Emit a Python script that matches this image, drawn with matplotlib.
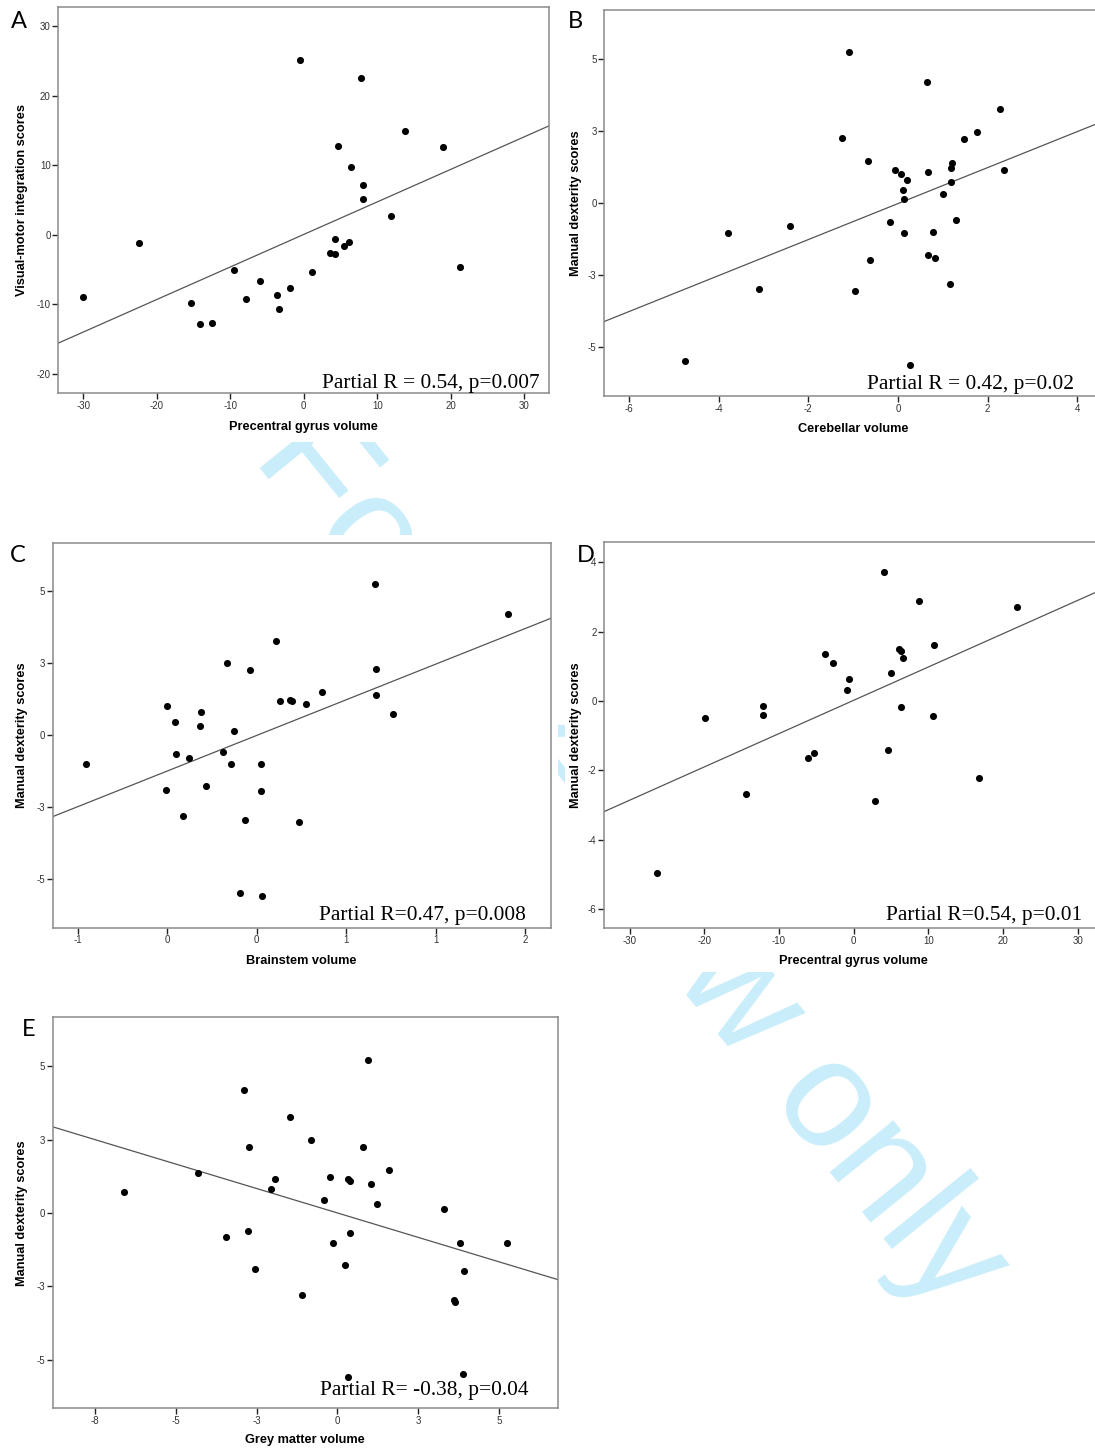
#!/usr/bin/env python3

import matplotlib
matplotlib.use("Agg")
import matplotlib.pyplot as plt
from matplotlib.patches import Rectangle

W, H = 1095, 1451

# Panel A: precentral gyrus volume vs visual-motor integration scores
a_x = [-30.0, -22.4, -15.3, -14.1, -12.5, -9.5, -7.8, -5.9, -3.6, -3.4, -1.9, -0.5, 1.1,
       3.6, 4.3, 4.3, 4.7, 5.5, 6.1, 6.4, 7.8, 8.1, 8.1, 11.9, 13.8, 19.0, 21.3]
a_y = [-9.0, -1.2, -9.8, -12.8, -12.7, -5.0, -9.3, -6.6, -8.7, -10.7, -7.7, 25.2, -5.4,
       -2.6, -2.8, -0.6, 12.7, -1.6, -1.1, 9.7, 22.6, 7.2, 5.1, 2.7, 14.9, 12.6, -4.7]

# Panel B: cerebellar volume vs manual dexterity
b_x = [-4.75, -3.80, -3.11, -2.40, -1.24, -1.10, -0.96, -0.67, -0.63, -0.18, -0.06, 0.07,
       0.12, 0.20, 0.13, 0.14, 0.27, 0.65, 0.67, 0.68, 0.82, 0.78, 1.01, 1.19, 1.20, 1.19,
       1.30, 1.16, 1.48, 1.77, 2.27, 2.37]
b_y = [-5.48, -1.03, -2.97, -0.81, 2.26, 5.21, -3.04, 1.47, -1.96, -0.67, 1.14, 0.99,
       0.45, 0.78, 0.14, -1.03, -5.60, 4.18, 1.07, -1.80, -1.92, -1.01, 0.31, 1.22, 1.37,
       0.73, -0.60, -2.80, 2.22, 2.47, 3.24, 1.14]

# Panel C: brainstem volume vs manual dexterity
c_x = [-0.947, -0.410, -0.403, -0.345, -0.340, -0.292, -0.251, -0.182, -0.172, -0.143,
       -0.026, -0.002, 0.029, 0.051, 0.089, 0.120, 0.154, 0.228, 0.228, 0.236, 0.332,
       0.358, 0.425, 0.435, 0.483, 0.533, 0.641, 0.996, 1.001, 1.001, 1.114, 1.884]
c_y = [-1.01, -1.91, 1.01, 0.47, -0.65, -2.79, -0.79, 0.33, 0.81, -1.77, -0.58, 2.50,
       -1.01, 0.16, -5.46, -2.96, 2.25, -0.99, -1.94, -5.59, 3.27, 1.17, 1.23, 1.17, -3.02,
       1.09, 1.49, 5.23, 2.28, 1.39, 0.74, 4.20]

# Panel D: precentral gyrus volume vs manual dexterity
d_x = [-26.30, -19.86, -14.37, -12.13, -12.13, -6.05, -5.37, -3.82, -2.72, -0.85, -0.62,
       2.86, 4.00, 4.59, 5.05, 6.10, 6.33, 6.56, 6.28, 8.71, 10.58, 10.81, 16.84, 21.87]
d_y = [-4.97, -0.48, -2.68, -0.15, -0.41, -1.64, -1.51, 1.36, 1.10, 0.31, 0.63,
       -2.89, 3.71, -1.40, 0.81, 1.50, 1.44, 1.24, -0.16, 2.88, -0.43, 1.62, -2.22, 2.72]

# Panel E: grey matter volume vs manual dexterity
e_x = [-6.59, -4.30, -3.45, -2.90, -2.76, -2.73, -2.55, -2.06, -1.92, -1.48, -1.11, -0.81,
       -0.43, -0.22, -0.13, 0.24, 0.34, 0.34, 0.40, 0.40, 0.79, 0.93, 1.05, 1.23, 1.60,
       3.28, 3.61, 3.64, 3.78, 3.92, 3.88, 5.23]
e_y = [0.73, 1.37, -0.81, 4.18, -0.60, 2.25, -1.92, 0.80, 1.16, 3.25, -2.80, 2.48,
       0.44, 1.22, -1.02, -1.78, -5.59, 1.15, 1.08, -0.67, 2.23, 5.22, 0.99, 0.32, 1.47,
       0.14, -2.98, -3.03, -1.02, -1.97, -5.48, -1.01]

# fit lines (slope, intercept)
fits = {"A": (0.468, 0.05), "B": (0.623, -0.02), "C": (2.06, -0.42),
        "D": (0.0961, 0.02), "E": (-0.333, 0.0)}

# SPSS style rounded tick labels
sym_ticks = [-5, -2.5, 0, 2.5, 5]
sym_labels = ["-5", "-3", "0", "3", "5"]
c_xticks = [-1.0, -0.4, 0.2, 0.8, 1.4, 2.0]
c_xlabels = ["-1", "0", "0", "1", "1", "2"]
e_xticks = [-7.5, -5, -2.5, 0, 2.5, 5]
e_xlabels = ["-8", "-5", "-3", "0", "3", "5"]
gyrus_ticks = [-30, -20, -10, 0, 10, 20, 30]

panels = [
    dict(name="A", box=(58.3, 6.7, 549.3, 393.3), x=a_x, y=a_y,
         xlim=(-33.4, 33.4), ylim=(-22.8, 32.8),
         xt=gyrus_ticks, xl=[str(v) for v in gyrus_ticks],
         yt=[-20, -10, 0, 10, 20, 30], yl=["-20", "-10", "0", "10", "20", "30"],
         xlabel="Precentral gyrus volume", ylabel="Visual-motor integration scores",
         text="Partial R = 0.54, p=0.007", tpos=(540, 388), lpos=(11, 22), ylx=22, xly=427,
         sheet=(0, 0, 555, 442)),
    dict(name="B", box=(604.3, 10, 1102, 396), x=b_x, y=b_y,
         xlim=(-6.55, 4.55), ylim=(-6.68, 6.68),
         xt=[-6, -4, -2, 0, 2, 4], xl=["-6", "-4", "-2", "0", "2", "4"],
         yt=sym_ticks, yl=sym_labels,
         xlabel="Cerebellar volume", ylabel="Manual dexterity scores",
         text="Partial R = 0.42, p=0.02", tpos=(1074, 389), lpos=(568, 22), ylx=575, xly=429,
         sheet=(560, 0, 1095, 445)),
    dict(name="C", box=(52.7, 542.7, 550.7, 927.7), x=c_x, y=c_y,
         xlim=(-1.168, 2.172), ylim=(-6.68, 6.68),
         xt=c_xticks, xl=c_xlabels, yt=sym_ticks, yl=sym_labels,
         xlabel="Brainstem volume", ylabel="Manual dexterity scores",
         text="Partial R=0.47, p=0.008", tpos=(526, 920), lpos=(10, 556), ylx=22, xly=961,
         sheet=(0, 535, 558, 978)),
    dict(name="D", box=(604.3, 542.3, 1103, 928.3), x=d_x, y=d_y,
         xlim=(-33.4, 33.4), ylim=(-6.56, 4.58),
         xt=gyrus_ticks, xl=[str(v) for v in gyrus_ticks],
         yt=[-6, -4, -2, 0, 2, 4], yl=["-6", "-4", "-2", "0", "2", "4"],
         xlabel="Precentral gyrus volume", ylabel="Manual dexterity scores",
         text="Partial R=0.54, p=0.01", tpos=(1082, 920), lpos=(577, 556), ylx=575, xly=961,
         sheet=(565, 535, 1095, 972)),
    dict(name="E", box=(52.8, 1017.3, 557.7, 1408.3), x=e_x, y=e_y,
         xlim=(-8.80, 6.81), ylim=(-6.65, 6.66),
         xt=e_xticks, xl=e_xlabels, yt=sym_ticks, yl=sym_labels,
         xlabel="Grey matter volume", ylabel="Manual dexterity scores",
         text="Partial R= -0.38, p=0.04", tpos=(528, 1395), lpos=(22, 1030), ylx=22, xly=1441,
         sheet=(0, 1010, 565, 1451)),
]


def draw_panel(fig, p):
    # white sheet behind each panel hides the watermark, as in the pasted figure
    sx0, sy0, sx1, sy1 = p["sheet"]
    fig.patches.append(Rectangle((sx0 / W, 1 - sy1 / H), (sx1 - sx0) / W, (sy1 - sy0) / H,
                                 transform=fig.transFigure, facecolor="white",
                                 edgecolor="none", zorder=-0.5))

    x0, y0, x1, y1 = p["box"]
    ax = fig.add_axes([x0 / W, 1 - y1 / H, (x1 - x0) / W, (y1 - y0) / H])
    ax.set_facecolor("white")
    ax.scatter(p["x"], p["y"], s=26, color="black", zorder=3, linewidths=0)
    m, b = fits[p["name"]]
    ax.axline((0, b), slope=m, color="#555555", lw=0.9, zorder=2)
    ax.set_xlim(*p["xlim"])
    ax.set_ylim(*p["ylim"])
    ax.set_xticks(p["xt"])
    ax.set_xticklabels(p["xl"])
    ax.set_yticks(p["yt"])
    ax.set_yticklabels(p["yl"])
    ax.tick_params(length=4, width=1, color="#222222", labelsize=7,
                   labelcolor="#333333", pad=1.5)
    for sp in ax.spines.values():
        sp.set_color("#8a8a8a")
        sp.set_linewidth(1.1)
    # label positions given as centre pixels, shifted to matplotlib's anchor edge
    ax.set_xlabel(p["xlabel"], fontsize=9.2, fontweight="bold")
    ax.set_ylabel(p["ylabel"], fontsize=9.2, fontweight="bold")
    ax.xaxis.set_label_coords(0.5, -(p["xly"] - 6.5 - y1) / (y1 - y0))
    ax.yaxis.set_label_coords((p["ylx"] + 6.5 - x0) / (x1 - x0), 0.5)

    tx, ty = p["tpos"]
    fig.text(tx / W, 1 - ty / H, p["text"], family="Liberation Serif",
             fontsize=15.4, ha="right", va="baseline", zorder=5)
    lx, ly = p["lpos"]
    fig.text(lx / W, 1 - ly / H, p["name"], family="Lato", fontsize=17,
             ha="left", va="center", zorder=5)
    return ax


def main():
    plt.rcParams["font.family"] = ["Liberation Sans", "DejaVu Sans"]
    fig = plt.figure(figsize=(W / 100, H / 100), dpi=100)

    # faint review watermark behind the panels
    fig.text(630 / W, 1 - 862 / H, "For Review only", fontsize=111, color="#c9edfa",
             rotation=-51, ha="center", va="center", zorder=-1)

    for p in panels:
        draw_panel(fig, p)

    fig.savefig("out.png", dpi=100)


if __name__ == "__main__":
    main()
